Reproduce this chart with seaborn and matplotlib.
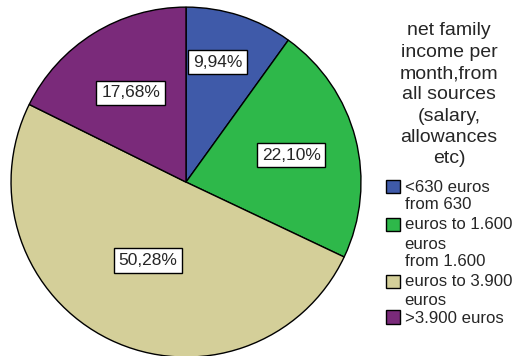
import matplotlib
matplotlib.use("Agg")
import matplotlib.pyplot as plt
import numpy as np
import seaborn as sns

categories = [
    "<630 euros",
    "from 630\neuros to 1.600\neuros",
    "from 1.600\neuros to 3.900\neuros",
    ">3.900 euros",
]
shares = [9.94, 22.10, 50.28, 17.68]
colors = ["#3f5aa9", "#2eb84a", "#d4cf99", "#7a2a7a"]
legend_title = "net family\nincome per\nmonth,from\nall sources\n(salary,\nallowances\netc)"

sns.set_style("white")
plt.rcParams["font.family"] = ["Liberation Sans", "DejaVu Sans"]

fig = plt.figure(figsize=(5.17, 3.56), dpi=100)
ax = fig.add_axes([0.0213, -0.003, 0.677, 0.983])

wedges, _, autotexts = ax.pie(
    shares,
    colors=colors,
    startangle=90,
    counterclock=False,
    autopct=lambda p: f"{p:.2f}%".replace(".", ","),
    pctdistance=0.6,
    wedgeprops=dict(edgecolor="black", linewidth=1.0),
    textprops=dict(fontsize=12.5),
)

# radial placement of each percentage box
label_radius = [0.71, 0.62, 0.50, 0.60]
angles = 90 - (np.cumsum(shares) - np.array(shares) / 2) * 3.6
angles[0] += 3
for t, r, a in zip(autotexts, label_radius, angles):
    t.set_position((r * np.cos(np.radians(a)), r * np.sin(np.radians(a))))
    t.set_bbox(dict(facecolor="white", edgecolor="black", linewidth=1.0,
                    boxstyle="square,pad=0.28"))
ax.set_aspect("equal")
ax.set_xlim(-1.0, 1.0)
ax.set_ylim(-1.0, 1.0)

leg = fig.legend(
    wedges,
    categories,
    title=legend_title,
    loc="upper left",
    bbox_to_anchor=(0.724, 0.97),
    frameon=False,
    fontsize=12.1,
    title_fontsize=14,
    handlelength=0.85,
    handleheight=0.85,
    handletextpad=0.25,
    labelspacing=0.12,
    borderpad=0.2,
    alignment="center",
)
leg.get_title().set_multialignment("center")
leg.get_title().set_linespacing(1.33)
for t in leg.get_texts():
    t.set_linespacing(1.4)
# extra room between the title block and the entries
leg._legend_box.sep = 9

fig.savefig("out.png", dpi=100)
